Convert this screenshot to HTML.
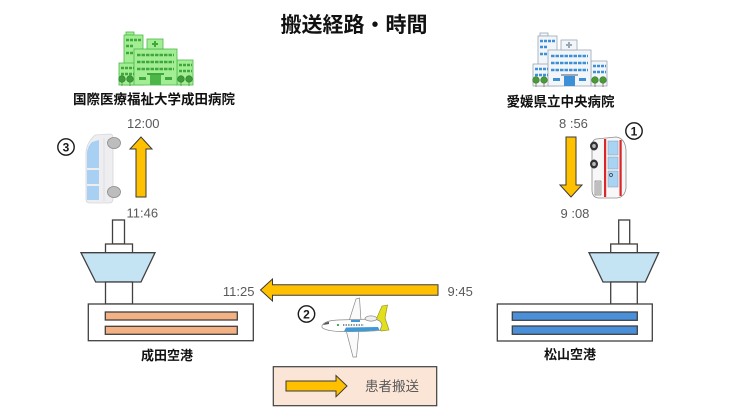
<!DOCTYPE html>
<html><head><meta charset="utf-8">
<style>
html,body{margin:0;padding:0;background:#fff;}
svg{display:block;}
.jp{font-family:"Liberation Sans","Noto Sans CJK JP",sans-serif;}
.t{font-family:"Liberation Sans",sans-serif;font-size:13px;fill:#595959;}
</style></head>
<body>
<svg width="736" height="414" viewBox="0 0 736 414" xmlns="http://www.w3.org/2000/svg">
<rect width="736" height="414" fill="#fff"/>

<!-- Title -->
<text x="354" y="32" text-anchor="middle" class="jp" font-size="21" font-weight="bold" fill="#111">搬送経路・時間</text>

<!-- Green hospital -->
<g stroke="#4CB648" stroke-width="0.8">
  <rect x="126" y="32" width="8" height="3" fill="#A3EE94"/>
  <rect x="124" y="35" width="19" height="50" fill="#A3EE94"/>
  <rect x="119" y="63" width="16" height="22" fill="#A3EE94"/>
  <rect x="177" y="60" width="16" height="25" fill="#A3EE94"/>
  <rect x="134" y="49" width="43" height="36" fill="#A3EE94"/>
  <rect x="147" y="39" width="16" height="10" fill="#A3EE94"/>
</g>
<g stroke="#3FA83B" fill="none">
  <line x1="155" y1="41" x2="155" y2="47" stroke-width="2"/>
  <line x1="152" y1="44" x2="158" y2="44" stroke-width="2"/>
  <line x1="126" y1="40" x2="141" y2="40" stroke-width="2.4" stroke-dasharray="3 1"/>
  <line x1="126" y1="46" x2="134" y2="46" stroke-width="2.4" stroke-dasharray="3 1"/>
  <line x1="126" y1="53" x2="134" y2="53" stroke-width="2.4" stroke-dasharray="3 1"/>
  <line x1="121" y1="68" x2="134" y2="68" stroke-width="2.4" stroke-dasharray="3 1"/>
  <line x1="121" y1="74" x2="134" y2="74" stroke-width="2.4" stroke-dasharray="3 1"/>
  <line x1="137" y1="55" x2="174" y2="55" stroke-width="2.6" stroke-dasharray="3.5 1"/>
  <line x1="137" y1="62" x2="174" y2="62" stroke-width="2.6" stroke-dasharray="3.5 1"/>
  <line x1="137" y1="69" x2="174" y2="69" stroke-width="2.6" stroke-dasharray="3.5 1"/>
  <line x1="179" y1="65" x2="192" y2="65" stroke-width="2.4" stroke-dasharray="3 1"/>
  <line x1="179" y1="71" x2="192" y2="71" stroke-width="2.4" stroke-dasharray="3 1"/>
  <line x1="139" y1="78.5" x2="146" y2="78.5" stroke-width="3"/>
  <line x1="165" y1="78.5" x2="172" y2="78.5" stroke-width="3"/>
</g>
<rect x="147" y="73" width="17" height="2" fill="#3FA83B"/>
<rect x="150" y="75" width="11" height="10" fill="#4CB648"/>
<g fill="#3E9C3A" stroke="#2F7D2D" stroke-width="0.6">
  <line x1="122" y1="79" x2="122" y2="86"/><line x1="130" y1="79" x2="130" y2="86"/>
  <line x1="181" y1="79" x2="181" y2="86"/><line x1="189" y1="79" x2="189" y2="86"/>
  <circle cx="122" cy="79" r="3.3"/><circle cx="130" cy="79" r="3.3"/>
  <circle cx="181" cy="79" r="3.3"/><circle cx="189" cy="79" r="3.3"/>
</g>

<!-- Blue hospital -->
<g transform="translate(414,1)">
<g stroke="#9AA6B5" stroke-width="0.8">
  <rect x="126" y="32" width="8" height="3" fill="#F3F6F9"/>
  <rect x="124" y="35" width="19" height="50" fill="#F3F6F9"/>
  <rect x="119" y="63" width="16" height="22" fill="#F3F6F9"/>
  <rect x="177" y="60" width="16" height="25" fill="#F3F6F9"/>
  <rect x="134" y="49" width="43" height="36" fill="#F3F6F9"/>
  <rect x="147" y="39" width="16" height="10" fill="#F3F6F9"/>
</g>
<g stroke="#3D8FD6" fill="none">
  <line x1="155" y1="41" x2="155" y2="47" stroke-width="2" stroke="#9AA6B5"/>
  <line x1="152" y1="44" x2="158" y2="44" stroke-width="2" stroke="#9AA6B5"/>
  <line x1="126" y1="40" x2="141" y2="40" stroke-width="2.4" stroke-dasharray="3 1"/>
  <line x1="126" y1="46" x2="134" y2="46" stroke-width="2.4" stroke-dasharray="3 1"/>
  <line x1="126" y1="53" x2="134" y2="53" stroke-width="2.4" stroke-dasharray="3 1"/>
  <line x1="121" y1="68" x2="134" y2="68" stroke-width="2.4" stroke-dasharray="3 1"/>
  <line x1="121" y1="74" x2="134" y2="74" stroke-width="2.4" stroke-dasharray="3 1"/>
  <line x1="137" y1="55" x2="174" y2="55" stroke-width="2.6" stroke-dasharray="3.5 1"/>
  <line x1="137" y1="62" x2="174" y2="62" stroke-width="2.6" stroke-dasharray="3.5 1"/>
  <line x1="137" y1="69" x2="174" y2="69" stroke-width="2.6" stroke-dasharray="3.5 1"/>
  <line x1="179" y1="65" x2="192" y2="65" stroke-width="2.4" stroke-dasharray="3 1"/>
  <line x1="179" y1="71" x2="192" y2="71" stroke-width="2.4" stroke-dasharray="3 1"/>
  <line x1="139" y1="78.5" x2="146" y2="78.5" stroke-width="3"/>
  <line x1="165" y1="78.5" x2="172" y2="78.5" stroke-width="3"/>
</g>
<rect x="147" y="73" width="17" height="2" fill="#9AA6B5"/>
<rect x="150" y="75" width="11" height="10" fill="#3D8FD6"/>
<g fill="#4A9A3A" stroke="#6B4B2B" stroke-width="0.6">
  <line x1="122" y1="79" x2="122" y2="86"/><line x1="130" y1="79" x2="130" y2="86"/>
  <line x1="181" y1="79" x2="181" y2="86"/><line x1="189" y1="79" x2="189" y2="86"/>
  <circle cx="122" cy="79" r="3.3" stroke="#3A7A2E"/><circle cx="130" cy="79" r="3.3" stroke="#3A7A2E"/>
  <circle cx="181" cy="79" r="3.3" stroke="#3A7A2E"/><circle cx="189" cy="79" r="3.3" stroke="#3A7A2E"/>
</g>
</g>

<!-- Hospital names -->
<text x="154" y="104" text-anchor="middle" class="jp" font-size="13.5" font-weight="bold" fill="#111">国際医療福祉大学成田病院</text>
<text x="560.5" y="106.5" text-anchor="middle" class="jp" font-size="13.5" font-weight="bold" fill="#111">愛媛県立中央病院</text>

<!-- Times -->
<text x="127" y="128" class="t">12:00</text>
<text x="126.5" y="217.5" class="t">11:46</text>
<text x="559" y="128" class="t">8 :56</text>
<text x="560.5" y="218" class="t">9 :08</text>
<text x="254.5" y="296" text-anchor="end" class="t">11:25</text>
<text x="447.5" y="296" class="t">9:45</text>

<!-- Arrows -->
<g fill="#FFC000" stroke="#3a3a3a" stroke-width="1">
  <path d="M136,197 L146,197 L146,149 L152,149 L141,137 L130,149 L136,149 Z"/>
  <path d="M566,137 L576,137 L576,185 L582,185 L571,197 L560,185 L566,185 Z"/>
  <path d="M438,284.7 L438,295.3 L272.5,295.3 L272.5,301 L260.5,290 L272.5,279 L272.5,284.7 Z"/>
</g>

<!-- Circled numbers -->
<g fill="none" stroke="#1a1a1a" stroke-width="1.4">
  <circle cx="66" cy="147" r="8.2"/>
  <circle cx="634" cy="131" r="8.2"/>
  <circle cx="306.5" cy="314" r="8.2"/>
</g>
<g font-family="Liberation Sans, sans-serif" font-size="12" font-weight="bold" fill="#1a1a1a" text-anchor="middle">
  <text x="66" y="151.3">3</text>
  <text x="634" y="135.3">1</text>
  <text x="306.5" y="318.3">2</text>
</g>

<!-- Van (3) -->
<g>
  <path d="M95,135 L110,134 Q113,134 113,138 L113,199 Q113,203 109,203 L90,203 Q86,203 86,199 L86,152 Q87,142 95,135 Z" fill="#EEEEF1" stroke="#D5D6DB" stroke-width="0.8"/>
  <path d="M87,168 L87,152 Q88,146 92,142 L99,140 L99,168 Z" fill="#A8D0F2"/>
  <rect x="87" y="170" width="12" height="14" fill="#A8D0F2"/>
  <rect x="87" y="186" width="12" height="14" fill="#A8D0F2"/>
  <line x1="104" y1="138" x2="104" y2="201" stroke="#DADBE0" stroke-width="0.8"/>
  <ellipse cx="114" cy="143" rx="6.5" ry="5.5" fill="#BDBDBD" stroke="#8A8A8A" stroke-width="0.8"/>
  <ellipse cx="114" cy="192" rx="6.5" ry="5.5" fill="#BDBDBD" stroke="#8A8A8A" stroke-width="0.8"/>
</g>

<!-- Ambulance (1) -->
<g>
  <path d="M596,139 L616,137 Q625,138 626,150 L626,188 Q625,197 617,198 L598,198 Q592,197 592,190 L592,146 Q592,140 596,139 Z" fill="#F7F7F7" stroke="#8C8C8C" stroke-width="0.8"/>
  <rect x="608" y="141" width="10" height="14" fill="#A9D3F2" stroke="#7A9AB5" stroke-width="0.5"/>
  <rect x="608" y="157" width="10" height="12" fill="#A9D3F2" stroke="#7A9AB5" stroke-width="0.5"/>
  <rect x="608" y="171" width="10" height="16" fill="#A9D3F2" stroke="#7A9AB5" stroke-width="0.5"/>
  <rect x="604" y="139" width="2.2" height="58" fill="#D9262A"/>
  <rect x="619.5" y="140" width="2.2" height="56" fill="#D9262A"/>
  <rect x="595" y="181" width="6" height="14" fill="#E5E5E5" stroke="#666" stroke-width="0.6"/>
  <line x1="597" y1="182" x2="597" y2="194" stroke="#666" stroke-width="0.6"/>
  <line x1="599" y1="182" x2="599" y2="194" stroke="#666" stroke-width="0.6"/>
  <ellipse cx="594" cy="146" rx="4" ry="4.5" fill="#333"/>
  <ellipse cx="594" cy="146" rx="1.8" ry="2" fill="#bbb"/>
  <ellipse cx="594" cy="164" rx="4" ry="4.5" fill="#333"/>
  <ellipse cx="594" cy="164" rx="1.8" ry="2" fill="#bbb"/>
  <circle cx="611" cy="175" r="1.5" fill="none" stroke="#333" stroke-width="0.7"/>
</g>

<!-- Airplane (2) -->
<g stroke="#8A8A8A" stroke-width="0.7">
  <polygon points="349,321 356,299 359.5,298 361,321" fill="#FAFAFA"/>
  <polygon points="346,330 353,357 356.5,357 359,330" fill="#FAFAFA"/>
  <polygon points="375,322 382,306 387.5,305 385,318 389,330 381,331" fill="#E2DF1C" stroke="#9A9A20"/>
  <path d="M322,325.5 Q325,320.5 338,320 L374,319 Q381,320 382,325 L380,330.5 Q360,332 340,331.5 Q326,331 322,327.5 Z" fill="#FFFFFF"/>
  <ellipse cx="371" cy="318.5" rx="6" ry="2.6" fill="#EFEFEF"/>
</g>
<path d="M346,327.5 L378,327 L379.5,330 Q360,332 344,331.3 Z" fill="#3C9BD6"/>
<rect x="351" y="320" width="9" height="2" fill="#3C9BD6"/>
<path d="M323,325 Q325,322 329,322 L329,324 Z" fill="#555"/>
<circle cx="338" cy="325" r="1.1" fill="#2EA84A"/>
<line x1="343" y1="325" x2="364" y2="325" stroke="#444" stroke-width="1.2" stroke-dasharray="1.3 1.3"/>

<!-- Narita airport -->
<g stroke="#404040" stroke-width="1.3">
  <rect x="112.5" y="220" width="12" height="24" fill="#fff"/>
  <rect x="105.5" y="244" width="27" height="8.7" fill="#fff"/>
  <polygon points="81,252.7 155,252.7 141,282 95.7,282" fill="#C5E4F3"/>
  <rect x="105.5" y="282" width="27" height="22" fill="#fff"/>
  <rect x="88.3" y="304" width="165" height="36.7" fill="#fff"/>
  <rect x="105.3" y="312" width="132" height="8" fill="#F4B183"/>
  <rect x="105.3" y="326.3" width="132" height="8" fill="#F4B183"/>
</g>
<text x="167" y="360" text-anchor="middle" class="jp" font-size="13" font-weight="bold" fill="#111">成田空港</text>

<!-- Matsuyama airport -->
<g stroke="#404040" stroke-width="1.3">
  <rect x="618.7" y="220" width="11" height="24" fill="#fff"/>
  <rect x="610.7" y="244" width="26.6" height="8.7" fill="#fff"/>
  <polygon points="589,252.7 658.7,252.7 645.3,282 603,282" fill="#C5E4F3"/>
  <rect x="610.7" y="282" width="26.6" height="22" fill="#fff"/>
  <rect x="497.3" y="304" width="155" height="37" fill="#fff"/>
  <rect x="512.3" y="312" width="125" height="8.3" fill="#4A8FD9"/>
  <rect x="512.3" y="326" width="125" height="8.3" fill="#4A8FD9"/>
</g>
<text x="570" y="359" text-anchor="middle" class="jp" font-size="13" font-weight="bold" fill="#111">松山空港</text>

<!-- Legend -->
<rect x="273.3" y="366.7" width="163.4" height="39" fill="#FBE5D6" stroke="#404040" stroke-width="1.2"/>
<path d="M286,381 L336,381 L336,375.5 L347,386 L336,396.7 L336,391 L286,391 Z" fill="#FFC000" stroke="#3a3a3a" stroke-width="1"/>
<text x="365" y="391" class="jp" font-size="13.5" fill="#595959">患者搬送</text>
</svg>
</body></html>
